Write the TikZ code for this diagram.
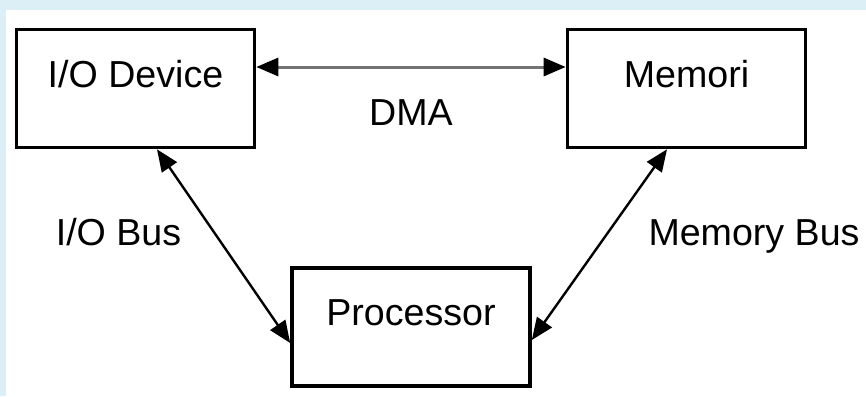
\documentclass[tikz,border=0pt]{standalone}
\usepackage{xcolor}
\usepackage{fontspec}
\setmainfont{Liberation Sans}
\usetikzlibrary{arrows.meta}
\definecolor{bgblue}{RGB}{220,239,247}

\begin{document}
\begin{tikzpicture}[
    x=0.5pt, y=-0.5pt,
    unit/.style={draw, line width=1.8pt, minimum width=119pt, minimum height=59pt,
      inner sep=0pt, text height=14pt, text depth=15.5pt, font=\fontsize{18.8}{22}\selectfont},
    buslabel/.style={anchor=base, inner sep=0pt, font=\fontsize{18.8}{22}\selectfont},
    bus/.style={line width=1.2pt, {Triangle[length=11pt,width=9pt]}-{Triangle[length=11pt,width=9pt]}}
  ]
    % background
    \useasboundingbox (0,0) rectangle (866,396);
    \fill[bgblue] (0,0) rectangle (866,396);
    \fill[white] (6,10) rectangle (866,396);

    % units
    \node[unit] (iodev) at (135.5,88.5) {I/O Device};
    \node[unit] (memori) at (686.5,88.5) {Memori};
    \node[unit] (proc) at (411,327) {Processor};

    % buses
    \draw[bus, line width=1.5pt, draw=black!55, {Triangle[length=11pt,width=9pt,color=black]}-{Triangle[length=11pt,width=9pt,color=black]}]
      ([yshift=10.75pt]iodev.east) -- ([yshift=10.75pt]memori.west);
    \draw[bus] ([xshift=10.75pt]iodev.south) -- ([yshift=-8pt]proc.west);
    \draw[bus] ([xshift=-9.75pt]memori.south) -- ([yshift=-6.5pt]proc.east);

    % labels
    \node[buslabel] (dma) at (411,125) {DMA};
    \node[buslabel] (iobus) at (118.5,245) {I/O Bus};
    \node[buslabel] (membus) at (754,245) {Memory Bus};
  \end{tikzpicture}
\end{document}
